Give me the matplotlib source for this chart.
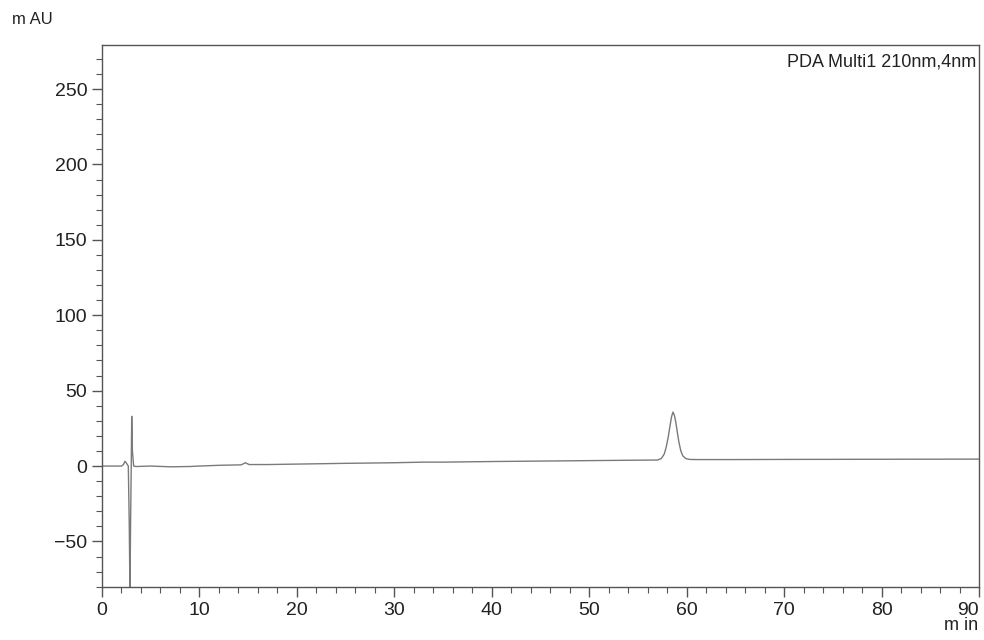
import matplotlib
matplotlib.use("Agg")
import matplotlib.pyplot as plt
from matplotlib.ticker import MultipleLocator

plt.rcParams['font.family'] = ['Liberation Sans', 'DejaVu Sans']

# Chromatogram trace: retention time (min) and detector signal (mAU)
time_min = [0, 2.0, 2.2, 2.35, 2.5, 2.7, 2.8, 2.87, 2.93, 3.0, 3.05, 3.12, 3.25, 3.5,
            5, 7, 9, 10, 12, 14.3, 14.7, 15.1, 17, 20, 25, 30, 33, 35, 40, 45, 50,
            55, 57.0, 57.4, 57.7, 57.9, 58.1, 58.3, 58.45, 58.6, 58.75, 58.9, 59.05,
            59.2, 59.4, 59.6, 59.9, 60.3, 61, 65, 70, 80, 90]
signal_mau = [0, 0, 1, 3.2, 2, 0, -40, -85, -40, 0, 33, 10, 0, -0.3,
              0, -0.5, -0.3, 0, 0.5, 0.8, 2.2, 1.0, 1.0, 1.3, 1.8, 2.2, 2.6, 2.6, 3.0, 3.3, 3.6,
              3.9, 4.0, 5.0, 8.0, 12.5, 19, 27, 32.8, 35.8, 33.5, 28.5, 22,
              16, 10, 6.8, 5.0, 4.4, 4.3, 4.3, 4.4, 4.5, 4.6]

x_ticks = [0, 10, 20, 30, 40, 50, 60, 70, 80, 90]
y_ticks = [-50, 0, 50, 100, 150, 200, 250]
channel_label = "PDA Multi1 210nm,4nm"

fig = plt.figure(figsize=(9.84, 6.4), dpi=100)
ax = fig.add_axes([102 / 984, 1 - 587 / 640, (979 - 102) / 984, (587 - 45) / 640])

ax.plot(time_min, signal_mau, color='#7a7a7a', linewidth=1.0)

ax.set_xlim(0, 90)
ax.set_ylim(-80.2, 279.2)
ax.set_xticks(x_ticks)
ax.set_yticks(y_ticks)
ax.xaxis.set_minor_locator(MultipleLocator(2))
ax.yaxis.set_minor_locator(MultipleLocator(10))

for side in ['top', 'right', 'left', 'bottom']:
    ax.spines[side].set_color('#555555')
    ax.spines[side].set_linewidth(1.0)

ax.tick_params(axis='both', which='major', direction='out', length=7, width=1.0,
               colors='#555555', labelcolor='#222222', labelsize=14)
ax.tick_params(axis='both', which='minor', direction='out', length=4, width=0.8,
               colors='#555555')
# keep the last x label inside the figure
ax.xaxis.get_major_ticks()[-1].label1.set_horizontalalignment('right')

ax.text(0.997, 0.985, channel_label, transform=ax.transAxes, ha='right', va='top',
        fontsize=13, color='#222222')
fig.text(12 / 984, 1 - 20 / 640, "m AU", ha='left', va='center', fontsize=12, color='#222222')
fig.text(978 / 984, 1 - 626 / 640, "m in", ha='right', va='center', fontsize=13, color='#222222')

fig.savefig("out.png", dpi=100)
